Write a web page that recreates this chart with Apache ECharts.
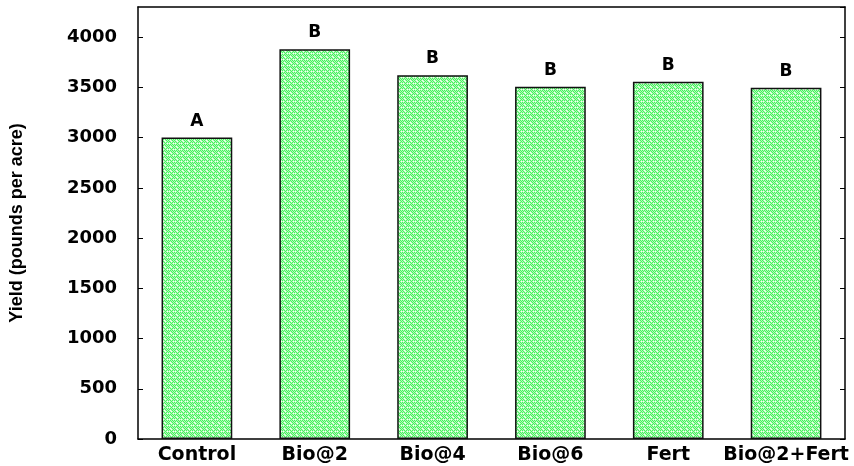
<!DOCTYPE html>
<html><head><meta charset="utf-8">
<script src="https://cdn.jsdelivr.net/npm/echarts@6/dist/echarts.min.js"></script>
<style>html,body{margin:0;padding:0;background:#fff}#c{width:854px;height:466px}</style>
</head><body><div id="c"></div>
<script>
const categories = ['Control', 'Bio@2', 'Bio@4', 'Bio@6', 'Fert', 'Bio@2+Fert'];
const yieldValues = [3000, 3880, 3620, 3505, 3555, 3495];
const groupLetters = ['A', 'B', 'B', 'B', 'B', 'B'];

function makePattern() {
  const c = document.createElement('canvas');
  c.width = 6; c.height = 6;
  const g = c.getContext('2d');
  g.fillStyle = '#b4fab8';
  g.fillRect(0, 0, 6, 6);
  g.fillStyle = '#44f25e';
  const pts = [[0,0],[2,0],[4,0],[1,1],[3,1],[5,1],[0,2],[4,2],[1,3],[5,3],[0,4],[2,4],[4,4],[3,5]];
  pts.forEach(p => g.fillRect(p[0], p[1], 1, 1));
  g.fillStyle = '#f4fff4';
  [[2,2],[3,3],[1,5],[5,5]].forEach(p => g.fillRect(p[0], p[1], 1, 1));
  return c;
}
const pattern = makePattern();

const chart = echarts.init(document.getElementById('c'));
const wide = 'DejaVu Sans, Verdana, sans-serif';
const arial = 'Liberation Sans, Arial, sans-serif';
chart.setOption({
  animation: false,
  grid: { left: 138, right: 9, top: 7, bottom: 27, containLabel: false, outerBoundsMode: 'none' },
  xAxis: [{
    type: 'category', data: categories,
    axisLine: { lineStyle: { color: '#000', width: 1.5 } },
    axisTick: { inside: true, length: 3, lineStyle: { color: '#000' } },
    axisLabel: { color: '#000', fontWeight: 'bold', fontSize: 19, fontFamily: wide, margin: 7, interval: 0, hideOverlap: false }
  }, {
    type: 'category', data: categories, position: 'top',
    axisLine: { show: true, onZero: false, lineStyle: { color: '#000', width: 1.5 } },
    axisTick: { inside: true, length: 3, lineStyle: { color: '#000' } },
    axisLabel: { show: false }
  }],
  yAxis: [{
    type: 'value', min: 0, max: 4300, interval: 500,
    name: 'Yield (pounds per acre)', nameLocation: 'middle', nameGap: 112,
    nameTextStyle: { color: '#000', fontWeight: 'bold', fontSize: 18, fontFamily: arial },
    axisLine: { show: true, lineStyle: { color: '#000', width: 1.5 } },
    axisTick: { show: true, inside: true, length: 5, lineStyle: { color: '#000' } },
    axisLabel: { color: '#000', fontWeight: 'bold', fontSize: 18, fontFamily: wide, margin: 21, showMaxLabel: false, formatter: v => String(v) },
    splitLine: { show: false }
  }, {
    type: 'value', min: 0, max: 4300, interval: 500, position: 'right',
    axisLine: { show: true, lineStyle: { color: '#000', width: 1.5 } },
    axisTick: { show: true, inside: true, length: 5, lineStyle: { color: '#000' } },
    axisLabel: { show: false },
    splitLine: { show: false }
  }],
  series: [{
    type: 'bar', data: yieldValues, barCategoryGap: '40%',
    itemStyle: { color: { image: pattern, repeat: 'repeat' }, borderColor: '#111', borderWidth: 1.5 },
    label: {
      show: true, position: 'top', distance: 8,
      formatter: p => groupLetters[p.dataIndex],
      color: '#000', fontWeight: 'bold', fontSize: 17, fontFamily: wide
    }
  }]
});
</script></body></html>
